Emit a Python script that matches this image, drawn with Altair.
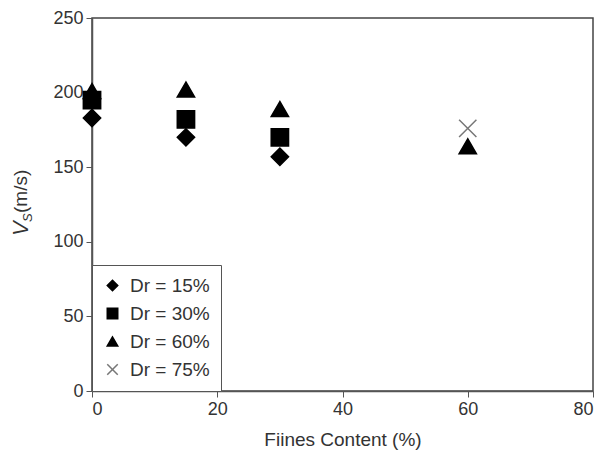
import altair as alt
import pandas as pd

fines = [0, 15, 30, 0, 15, 30, 0, 15, 30, 60, 60]
vs = [183, 170, 157, 195, 182, 170, 201, 202, 189, 164, 176]
dr = ["Dr = 15%", "Dr = 15%", "Dr = 15%",
      "Dr = 30%", "Dr = 30%", "Dr = 30%",
      "Dr = 60%", "Dr = 60%", "Dr = 60%", "Dr = 60%",
      "Dr = 75%"]
order = ["Dr = 15%", "Dr = 30%", "Dr = 60%", "Dr = 75%"]

df = pd.DataFrame({"fines": fines, "vs": vs, "dr": dr})

FONT = "Liberation Sans"
xshape = "M-1,-1L1,1M-1,1L1,-1"

points = alt.Chart(df).mark_point(size=300, strokeWidth=1.5, opacity=1).encode(
    x=alt.X("fines:Q", scale=alt.Scale(domain=[0, 80]),
            axis=alt.Axis(values=[0, 20, 40, 60, 80], title="Fiines Content (%)",
                          titlePadding=12)),
    y=alt.Y("vs:Q", scale=alt.Scale(domain=[0, 250]),
            axis=alt.Axis(values=[0, 50, 100, 150, 200, 250], title=None)),
    shape=alt.Shape("dr:N", scale=alt.Scale(domain=order,
                    range=["diamond", "square", "triangle-up", xshape]),
                    legend=alt.Legend(title=None)),
    fill=alt.Fill("dr:N", scale=alt.Scale(domain=order,
                  range=["black", "black", "black", "transparent"]),
                  legend=alt.Legend(title=None)),
    stroke=alt.Stroke("dr:N", scale=alt.Scale(domain=order,
                      range=["black", "black", "black", "#777777"]),
                      legend=alt.Legend(title=None)),
)

title_v = alt.Chart(pd.DataFrame({"t": ["V"]})).mark_text(
    angle=270, align="left", baseline="middle", fontStyle="italic",
    fontSize=22, font=FONT, color="#333333"
).encode(text="t:N", x=alt.value(-71), y=alt.value(218))

title_s = alt.Chart(pd.DataFrame({"t": ["S"]})).mark_text(
    angle=270, align="left", baseline="middle", fontStyle="italic",
    fontSize=13, font=FONT, color="#333333"
).encode(text="t:N", x=alt.value(-64), y=alt.value(204))

title_u = alt.Chart(pd.DataFrame({"t": ["(m/s)"]})).mark_text(
    angle=270, align="left", baseline="middle",
    fontSize=19, font=FONT, color="#333333"
).encode(text="t:N", x=alt.value(-71), y=alt.value(195))

chart = alt.layer(points, title_v, title_s, title_u).properties(
    width=501, height=373,
    padding={"left": 2, "top": 1, "right": 0, "bottom": 5},
).configure_view(
    stroke="#444444", strokeWidth=1.5
).configure_axis(
    grid=False, domainColor="#555555", domainWidth=1.5, tickColor="#555555",
    tickSize=6, labelFont=FONT, labelFontSize=18, labelColor="#333333",
    titleFont=FONT, titleFontSize=19, titleColor="#333333", titleFontWeight="normal",
    labelPadding=3
).configure_legend(
    orient="bottom-left", offset=0, strokeColor="#555555", fillColor="white",
    padding=11, labelFont=FONT, labelFontSize=19, labelColor="#333333",
    symbolSize=110, rowPadding=8, symbolStrokeWidth=1.5, labelOffset=8
)

chart.save("out.html", embed_options={"renderer": "svg", "actions": False})
